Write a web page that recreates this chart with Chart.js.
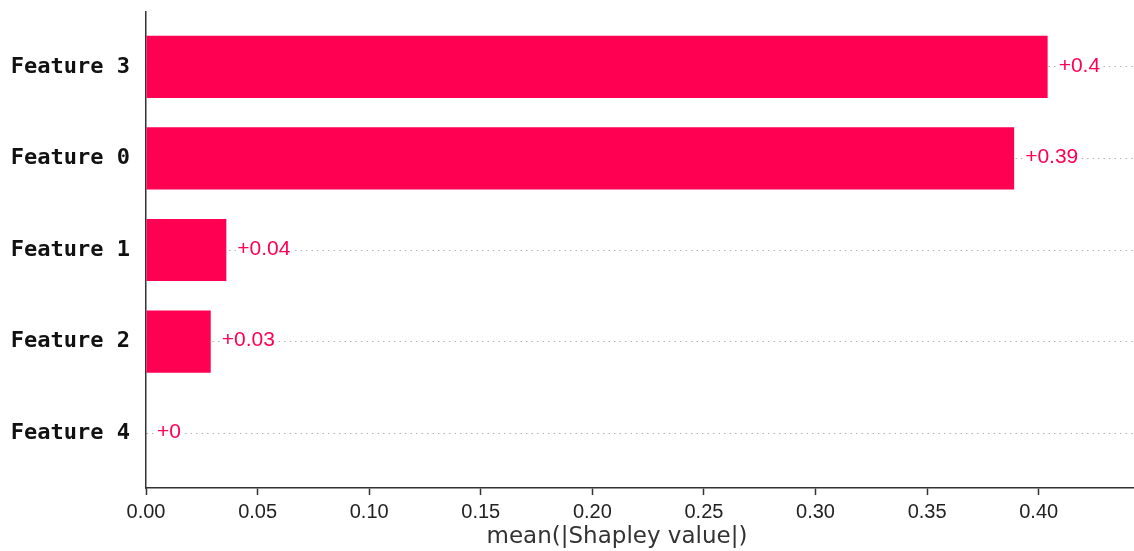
<!DOCTYPE html>
<html>
<head>
<meta charset="utf-8">
<script src="https://cdn.jsdelivr.net/npm/chart.js@4.4.1/dist/chart.umd.min.js"></script>
<style>
  html, body { margin: 0; padding: 0; background: #ffffff; }
  #wrap { width: 1134px; height: 551px; position: relative; }
</style>
</head>
<body>
<div id="wrap"><canvas id="c"></canvas></div>
<script>
// Features ordered from top to bottom, with their mean |SHAP| values
const features = ['Feature 3', 'Feature 0', 'Feature 1', 'Feature 2', 'Feature 4'];
const meanAbsShap = [0.404, 0.389, 0.036, 0.029, 0.0];
const xTicks = [0.00, 0.05, 0.10, 0.15, 0.20, 0.25, 0.30, 0.35, 0.40];
const xAxisTitle = 'mean(|Shapley value|)';

const barColor = '#ff0052';

function fmtValue(v) {
  // two decimals, trailing zeros removed, always signed
  let s = v.toFixed(2).replace(/0+$/, '').replace(/\.$/, '');
  return (v >= 0 ? '+' : '') + s;
}

const valueLabels = {
  id: 'valueLabels',
  afterDatasetsDraw(chart) {
    const { ctx } = chart;
    const meta = chart.getDatasetMeta(0);
    ctx.save();
    ctx.font = '21px "Liberation Sans", Arial, sans-serif';
    ctx.textBaseline = 'middle';
    ctx.textAlign = 'left';
    meta.data.forEach((bar, i) => {
      const txt = fmtValue(meanAbsShap[i]);
      const x = bar.x + 11;
      const y = bar.y - 1;
      const w = ctx.measureText(txt).width;
      ctx.fillStyle = '#ffffff';
      ctx.fillRect(x - 1, y - 8, w + 2, 16);
      ctx.fillStyle = barColor;
      ctx.fillText(txt, x, y);
    });
    ctx.restore();
  }
};

const axisTitle = {
  id: 'axisTitle',
  afterDraw(chart) {
    const { ctx } = chart;
    const xs = chart.scales.x;
    ctx.save();
    ctx.font = '23px "DejaVu Sans", Verdana, sans-serif';
    ctx.fillStyle = '#333333';
    ctx.textAlign = 'center';
    ctx.textBaseline = 'middle';
    ctx.fillText(xAxisTitle, xs.left + (xs.right - xs.left) * 0.4767, 537);
    ctx.restore();
  }
};

new Chart(document.getElementById('c'), {
  type: 'bar',
  data: {
    datasets: [{
      data: meanAbsShap.map((v, i) => ({ x: v, y: i })),
      backgroundColor: barColor,
      borderWidth: 0,
      categoryPercentage: 1.0,
      barPercentage: 0.68
    }]
  },
  options: {
    indexAxis: 'y',
    responsive: true,
    maintainAspectRatio: false,
    animation: false,
    layout: { padding: { top: 12, right: 0, bottom: 0, left: 0 } },
    plugins: {
      legend: { display: false },
      tooltip: { enabled: false }
    },
    scales: {
      x: {
        type: 'linear',
        min: 0,
        max: 0.4427,
        offset: false,
        afterBuildTicks(scale) { scale.ticks = xTicks.map(v => ({ value: v })); },
        afterFit(scale) {
          scale.height = 63;
          scale.paddingLeft = 0;
          scale.paddingRight = 0;
        },
        ticks: {
          color: '#222222',
          font: { family: '"Liberation Sans", Arial, sans-serif', size: 20 },
          padding: 5,
          maxRotation: 0,
          autoSkip: false,
          callback: (v) => Number(v).toFixed(2)
        },
        grid: {
          display: true,
          offset: false,
          drawOnChartArea: false,
          drawTicks: true,
          tickLength: 7,
          tickColor: '#333333',
          tickWidth: 1.5
        },
        border: { display: true, color: '#333333', width: 1.5 }
      },
      y: {
        type: 'linear',
        reverse: true,
        min: -0.6,
        max: 4.6,
        offset: false,
        afterBuildTicks(scale) { scale.ticks = features.map((_, i) => ({ value: i })); },
        afterFit(scale) {
          scale.width = 146;
          scale.paddingTop = 0;
          scale.paddingBottom = 0;
        },
        ticks: {
          color: '#111111',
          font: { family: '"DejaVu Sans Mono", monospace', size: 22, weight: 'bold' },
          padding: 16,
          autoSkip: false,
          callback: (v) => features[v]
        },
        grid: {
          display: true,
          offset: false,
          drawOnChartArea: true,
          drawTicks: false,
          color: '#b4b4b4',
          lineWidth: 1
        },
        border: { display: true, color: '#333333', width: 1.5, dash: [1.5, 4] }
      }
    }
  },
  plugins: [valueLabels, axisTitle]
});
</script>
</body>
</html>
